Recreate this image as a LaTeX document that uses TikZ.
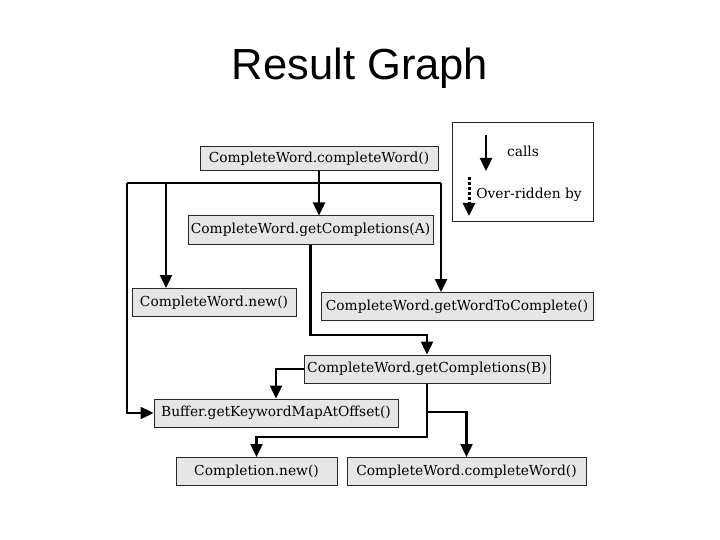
\documentclass[tikz,border=0pt]{standalone}
\usepackage{fontspec}
\setmainfont{DejaVu Serif}
\newfontfamily\titlefont{Liberation Sans}
\usepackage{tikz}
\usetikzlibrary{shapes,arrows.meta,positioning,calc}
\definecolor{BoxGray}{RGB}{230, 230, 230}
\definecolor{BoxLine}{RGB}{40, 40, 40}

\begin{document}
\begin{tikzpicture}[x=1pt, y=-1pt]
  \tikzstyle{method} = [rectangle, draw=BoxLine, fill=BoxGray, inner sep=0pt, minimum height=28pt, line width=1pt, font=\fontsize{13.8}{16}\selectfont]
  \tikzstyle{line} = [draw=black, -{Triangle[length=13pt,width=12pt]}, line width=2.4pt]
  \tikzstyle{legendbox} = [rectangle, draw=BoxLine, line width=1pt, minimum width=141pt, minimum height=99pt]

  \useasboundingbox (0,0) rectangle (720,540);

  \node [font=\titlefont\fontsize{43.5}{50}\selectfont] (title) at (360,68) {Result Graph};

  % call graph boxes
  \node [method, minimum width=238pt, minimum height=24pt] (top) at (319,159) {CompleteWord.completeWord()};
  \node [method, minimum width=245pt] (compA) at (310.5,230) {CompleteWord.getCompletions(A)};
  \node [method, minimum width=164pt] (cwnew) at (214,302.5) {CompleteWord.new()};
  \node [method, minimum width=272pt] (wtc) at (457,306.5) {CompleteWord.getWordToComplete()};
  \node [method, minimum width=246pt] (compB) at (427,369) {CompleteWord.getCompletions(B)};
  \node [method, minimum width=244pt] (buf) at (276,413) {Buffer.getKeywordMapAtOffset()};
  \node [method, minimum width=161pt] (cnew) at (256.5,471.5) {Completion.new()};
  \node [method, minimum width=239pt] (cwbot) at (466.5,471.5) {CompleteWord.completeWord()};

  % legend
  \node [legendbox] (legend) at (522.5,172.5) {};
  \coordinate (callsA) at (486,135);
  \coordinate (callsB) at (486,171);
  \coordinate (overA) at (469,177);
  \coordinate (overB) at (469,216);
  \node [font=\fontsize{13.8}{16}\selectfont] (callslbl) at (523,151) {calls};
  \node [font=\fontsize{13.8}{16}\selectfont] (overlbl) at (529,195) {Over-ridden by};
  \path [line] (callsA) -- (callsB);
  \path [line, line width=3pt, dash pattern=on 3pt off 2pt] (overA) -- (overB);

  % junctions
  \coordinate (busL) at (127,183);
  \coordinate (busN) at (166,183);
  \coordinate (busR) at (441,183);
  \coordinate (jAB) at (427,335);
  \coordinate (jBend) at (427,437);
  \coordinate (jBmid) at (427,412);

  \path [line] (top.south) -- (top.south |- compA.north);
  \draw [line width=2.4pt] (busL) -- (busR);
  \path [line] (busL) |- (buf.west);
  \path [line] (busN) -- (busN |- cwnew.north);
  \path [line] (busR) -- (busR |- wtc.north);
  \path [line] (compA.south) |- (jAB) -- (compB.north);
  \path [line] (compB.west) -| (buf.north);
  \path [line] (compB.south) -- (jBend) -| (cnew.north);
  \path [line] (jBmid) -| (cwbot.north);
\end{tikzpicture}
\end{document}
